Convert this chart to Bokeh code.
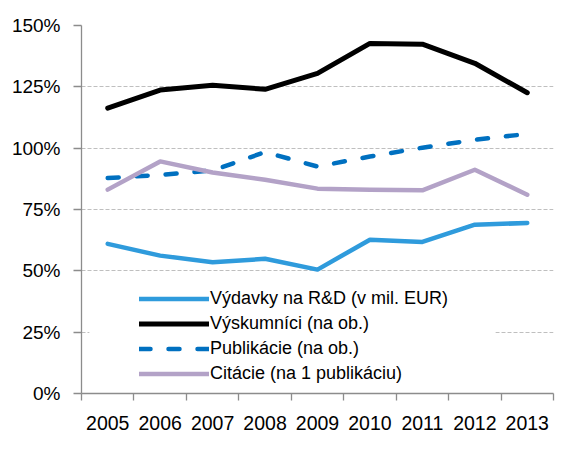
from bokeh.plotting import figure
from bokeh.models import (Range1d, FixedTicker, PrintfTickFormatter, Legend,
                          LegendItem, BoxAnnotation)
from bokeh.embed import file_html
from bokeh.resources import INLINE

# ---- data (index, % ) ----
years = [2005, 2006, 2007, 2008, 2009, 2010, 2011, 2012, 2013]
vydavky = [61.0, 56.2, 53.5, 54.9, 50.5, 62.7, 61.8, 68.8, 69.5]
vyskumnici = [116.3, 123.7, 125.6, 124.0, 130.5, 142.7, 142.4, 134.6, 122.6]
publikacie = [87.8, 89.1, 90.9, 98.4, 92.5, 96.6, 100.2, 103.4, 105.8]
citacie = [83.1, 94.6, 90.1, 87.1, 83.5, 83.1, 82.8, 91.2, 81.0]
y_ticks = [0, 25, 50, 75, 100, 125, 150]
series_names = ["Výdavky na R&D (v mil. EUR)", "Výskumníci (na ob.)",
                "Publikácie (na ob.)", "Citácie (na 1 publikáciu)"]

FONT = "Liberation Sans"
AXIS_GRAY = "#8C8C8C"

p = figure(width=562, height=434, output_backend="svg", toolbar_location=None,
           x_range=Range1d(years[0] - 0.5, years[-1] + 0.5),
           y_range=Range1d(0, 150),
           min_border_left=81, min_border_right=9,
           min_border_top=25, min_border_bottom=41)
p.outline_line_color = None
p.background_fill_color = "white"
p.border_fill_color = "white"
p.xgrid.visible = False

# y axis
p.yaxis.ticker = FixedTicker(ticks=y_ticks)
p.yaxis.formatter = PrintfTickFormatter(format="%d%%")
p.yaxis.major_label_text_font = FONT
p.yaxis.major_label_text_font_size = "19px"
p.yaxis.major_label_text_color = "#000000"
p.yaxis.major_label_standoff = 13
p.yaxis.major_tick_in = 0
p.yaxis.major_tick_out = 8
p.yaxis.minor_tick_line_color = None
p.yaxis.axis_line_color = AXIS_GRAY
p.yaxis.major_tick_line_color = AXIS_GRAY
p.yaxis.axis_line_width = 1.3
p.yaxis.major_tick_line_width = 1.3

p.ygrid.ticker = FixedTicker(ticks=y_ticks)
p.ygrid.grid_line_color = "#BFBFBF"
p.ygrid.grid_line_dash = "4 2"
p.ygrid.grid_line_width = 1.2

# x axis: labels at category centres, ticks between categories
boundaries = [y - 0.5 for y in years] + [years[-1] + 0.5]
p.xaxis.ticker = FixedTicker(ticks=years, minor_ticks=boundaries)
p.xaxis.formatter = PrintfTickFormatter(format="%d")
p.xaxis.major_label_text_font = FONT
p.xaxis.major_label_text_font_size = "19.5px"
p.xaxis.major_label_text_color = "#000000"
p.xaxis.major_tick_line_color = None
p.xaxis.major_tick_in = 0
p.xaxis.major_tick_out = 0
p.xaxis.minor_tick_in = 0
p.xaxis.minor_tick_out = 7
p.xaxis.minor_tick_line_color = AXIS_GRAY
p.xaxis.minor_tick_line_width = 1.3
p.xaxis.axis_line_color = AXIS_GRAY
p.xaxis.axis_line_width = 1.3
p.xaxis.major_label_standoff = 15

# white legend background box (hides grid lines behind legend)
p.add_layout(BoxAnnotation(left=2004.65, right=2012.39, bottom=2.4, top=48.1,
                           fill_color="white", fill_alpha=1.0,
                           line_color=None))

r1 = p.line(years, vydavky, line_color="#2F9BDC", line_width=4.5,
            line_join="round", line_cap="round")
r2 = p.line(years, vyskumnici, line_color="#000000", line_width=5,
            line_join="round", line_cap="round")
r3 = p.line(years, publikacie, line_color="#0070C0", line_width=4.5,
            line_dash="11 18", line_join="round", line_cap="round")
r4 = p.line(years, citacie, line_color="#B3A2C7", line_width=4.5,
            line_join="round", line_cap="round")

legend = Legend(items=[LegendItem(label=series_names[0], renderers=[r1]),
                       LegendItem(label=series_names[1], renderers=[r2]),
                       LegendItem(label=series_names[2], renderers=[r3]),
                       LegendItem(label=series_names[3], renderers=[r4])],
                location=(58, 7), margin=0, padding=0, spacing=0,
                glyph_width=70, glyph_height=25, label_height=25,
                label_standoff=1,
                label_text_font=FONT, label_text_font_size="18px",
                label_text_color="#000000",
                background_fill_alpha=0, border_line_color=None)
p.add_layout(legend)

open("out.html", "w").write(file_html(p, INLINE))
